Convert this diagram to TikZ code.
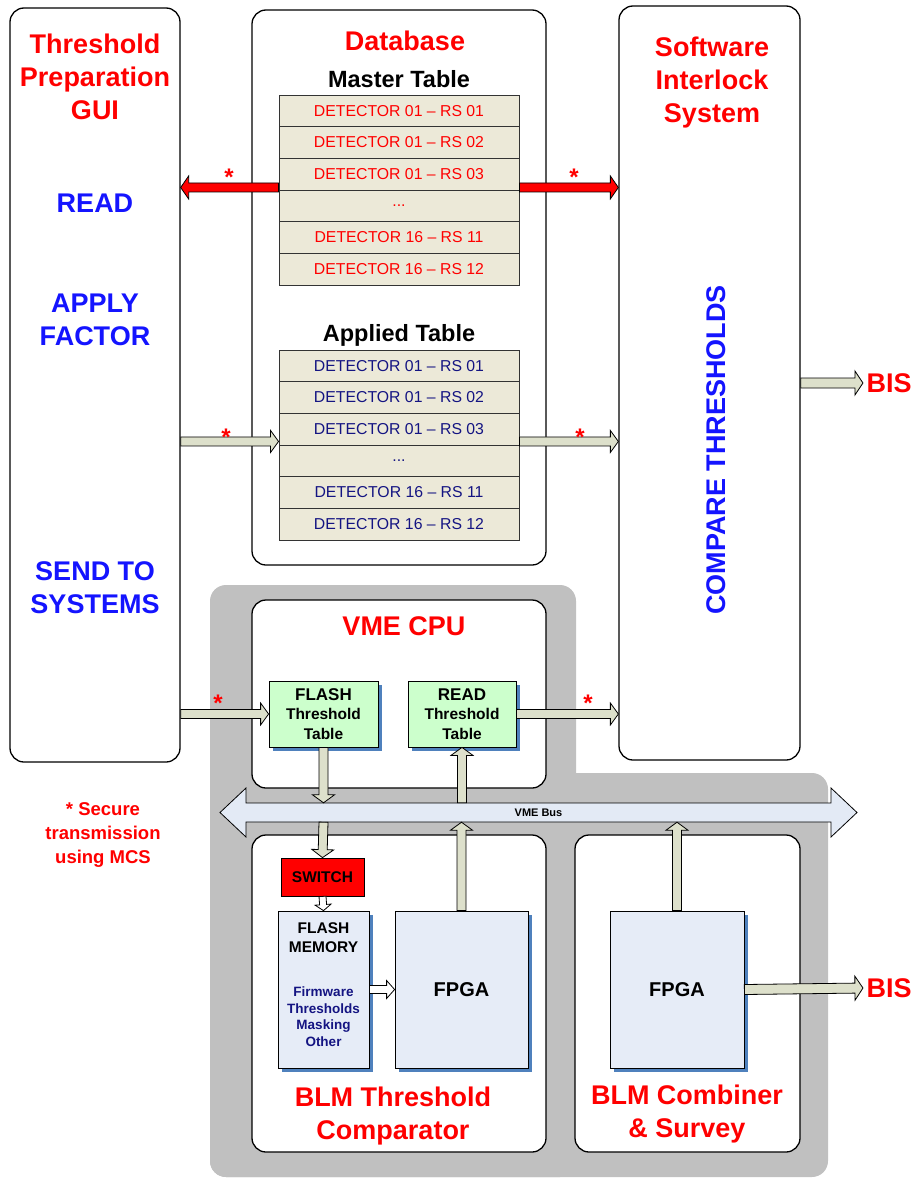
\documentclass[tikz,border=0pt]{standalone}
\usepackage{fontspec}
\setmainfont{Liberation Sans}
\usetikzlibrary{calc,shadows}

\definecolor{guired}{RGB}{255,0,0}
\definecolor{guiblue}{RGB}{20,20,255}
\definecolor{navytext}{RGB}{20,20,130}
\definecolor{tablefill}{RGB}{236,233,216}
\definecolor{arrowfill}{RGB}{221,224,203}
\definecolor{boxgreen}{RGB}{204,255,204}
\definecolor{boxblue}{RGB}{230,236,247}
\definecolor{shadowblue}{RGB}{79,129,189}
\definecolor{panelgray}{RGB}{192,192,192}
\definecolor{busfill}{RGB}{227,234,245}

% block arrow: [fill]{from}{to}{half shaft}{half head}{head length}
\newcommand{\blockarrow}[6][arrowfill]{
	\coordinate (ba-s) at (#2);
	\coordinate (ba-e) at (#3);
	\coordinate (ba-b) at ($(ba-e)!#6!(ba-s)$);
	\filldraw[fill=#1,draw=black,line width=0.8pt,line join=miter]
	($(ba-s)!#4!90:(ba-e)$) -- ($(ba-b)!#4!-90:(ba-s)$) -- ($(ba-b)!#5!-90:(ba-s)$) -- (ba-e)
	-- ($(ba-b)!#5!90:(ba-s)$) -- ($(ba-b)!#4!90:(ba-s)$) -- ($(ba-s)!#4!-90:(ba-e)$) -- cycle;
}

\tikzset{
	bigbox/.style={draw,line width=1.3pt,rounded corners=14pt,fill=white,inner sep=0pt},
	tabrow/.style={draw=black!80,line width=0.9pt,fill=tablefill,minimum width=240pt,minimum height=31.67pt,inner sep=0pt,font=\fontsize{15.8}{18}\selectfont},
	headline/.style={align=center,font=\fontsize{27}{33}\selectfont\bfseries},
	asterisk/.style={text=guired,font=\fontsize{24}{24}\selectfont\bfseries,inner sep=0pt},
	greenbox/.style={draw,line width=0.8pt,fill=boxgreen,align=center,inner sep=0pt,general shadow={fill=shadowblue,shadow xshift=4pt,shadow yshift=-4pt}},
	chipbox/.style={draw,line width=0.8pt,fill=boxblue,inner sep=0pt,general shadow={fill=shadowblue,shadow xshift=4pt,shadow yshift=-4pt}},
}

\begin{document}
\begin{tikzpicture}[x=1pt,y=-1pt]
\useasboundingbox (0,0) rectangle (919,1178);
%gray panel behind the hardware
\fill[panelgray,rounded corners=16pt] (210,585) rectangle (576,1177);
\fill[panelgray,rounded corners=16pt] (210,773) rectangle (828,1177);

%main boxes
\node[bigbox,minimum width=170pt,minimum height=754pt] (gui) at (95,385) {};
\node[bigbox,minimum width=294pt,minimum height=555pt] (db) at (399,287.5) {};
\node[bigbox,minimum width=181pt,minimum height=754pt] (sis) at (709.5,383) {};
\node[bigbox,minimum width=294pt,minimum height=188pt] (cpu) at (399,694) {};
\node[bigbox,minimum width=294pt,minimum height=317pt] (cmp) at (399,993.5) {};
\node[bigbox,minimum width=225pt,minimum height=317pt] (cmb) at (687.5,993.5) {};

%gui steps
\node[headline,text=guired] (gui-title) at (95,77) {Threshold\\Preparation\\GUI};
\node[headline,text=guiblue] (read-step) at (95,203) {READ};
\node[headline,text=guiblue] (apply-step) at (95,319.5) {APPLY\\FACTOR};
\node[headline,text=guiblue] (send-step) at (95,588) {SEND TO\\SYSTEMS};
\node[align=center,text=guired,font=\fontsize{18.5}{24}\selectfont\bfseries] (note) at (103,835) {* Secure\\transmission\\using MCS};

%interlock system
\node[headline,text=guired] (sis-title) at (712,83) {Software\\Interlock\\System};
\node[headline,text=guiblue,rotate=90] (compare) at (716,450) {COMPARE THRESHOLDS};

%database tables
\node[headline,text=guired] (db-title) at (405,41) {Database};
\node[headline,font=\fontsize{23.5}{28}\selectfont\bfseries] (master) at (399,79) {Master Table};
\node[headline,font=\fontsize{23.5}{28}\selectfont\bfseries] (applied) at (399,335) {Applied Table};
\foreach \i/\txt in {1/{DETECTOR 01 -- RS 01},2/{DETECTOR 01 -- RS 02},3/{DETECTOR 01 -- RS 03},4/{...},5/{DETECTOR 16 -- RS 11},6/{DETECTOR 16 -- RS 12}}{
	\node[tabrow,text=guired] (m\i) at (399,79.17+31.67*\i) {\txt};
	\node[tabrow,text=navytext] (a\i) at (399,334.17+31.67*\i) {\txt};
}

%vme cpu
\node[headline,text=guired] (cpu-title) at (404,626) {VME CPU};
\node[greenbox,minimum width=109pt,minimum height=66pt,font=\fontsize{15.5}{19.5}\selectfont\bfseries] (flash) at (323.5,714) {{\fontsize{17}{19.5}\selectfont FLASH}\\Threshold\\Table};
\node[greenbox,minimum width=108pt,minimum height=66pt,font=\fontsize{15.5}{19.5}\selectfont\bfseries] (read) at (462,714) {{\fontsize{17}{19.5}\selectfont READ}\\Threshold\\Table};

%bus
\coordinate (bus-l) at (220,812.5);
\coordinate (bus-r) at (857,812.5);
\filldraw[fill=busfill,line width=0.8pt] (bus-l) -- ++(26,-24.5) -- ++(0,15) -- ($(bus-r)+(-26,-9.5)$) -- ++(0,-15) -- (bus-r)
	-- ++(-26,24.5) -- ++(0,-15) -- ($(bus-l)+(26,9.5)$) -- ++(0,15) -- cycle;
\node[minimum width=585pt,minimum height=19pt,inner sep=0pt,font=\fontsize{11}{11}\selectfont\bfseries] (bus) at (538.5,812.5) {VME Bus};

%threshold comparator
\node[draw,fill=guired,line width=0.8pt,minimum width=83pt,minimum height=38pt,inner sep=0pt,font=\fontsize{15.5}{16}\selectfont\bfseries] (switch) at (322.5,877) {SWITCH};
\node[chipbox,minimum width=91pt,minimum height=157pt] (fmem) at (323.5,989.5) {};
\node[align=center,font=\fontsize{15.5}{19}\selectfont\bfseries] (fmem-name) at (323.5,937.5) {FLASH\\MEMORY};
\node[align=center,text=navytext,font=\fontsize{13.5}{16.5}\selectfont\bfseries] (fmem-data) at (323.5,1016.5) {Firmware\\Thresholds\\Masking\\Other};
\node[chipbox,minimum width=133pt,minimum height=157pt,font=\fontsize{20}{20}\selectfont\bfseries] (fpga1) at (461.5,989.5) {FPGA};
\node[headline,text=guired] (cmp-title) at (393,1116.5) {BLM Threshold\\Comparator};

%combiner
\node[chipbox,minimum width=134pt,minimum height=157pt,font=\fontsize{20}{20}\selectfont\bfseries] (fpga2) at (677,989.5) {FPGA};
\node[headline,text=guired] (cmb-title) at (687,1114.5) {BLM Combiner\\\& Survey};

%beam interlock outputs
\node[headline,text=guired] (bis1) at (889,383) {BIS};
\node[headline,text=guired] (bis2) at (889,988) {BIS};

%links
\coordinate (m-link) at ($(m3.south)+(0,-3)$);
\coordinate (a-link) at ($(a3.south)+(0,-4)$);
\blockarrow[guired]{m3.west |- m-link}{gui.east |- m-link}{4.5pt}{11.5pt}{8pt}
\blockarrow[guired]{m3.east |- m-link}{sis.west |- m-link}{4.5pt}{11.5pt}{8pt}
\blockarrow{gui.east |- a-link}{a3.west |- a-link}{4.5pt}{11pt}{8pt}
\blockarrow{a3.east |- a-link}{sis.west |- a-link}{4.5pt}{11pt}{8pt}
\blockarrow{gui.east |- flash.west}{flash.west}{4.5pt}{11pt}{8pt}
\blockarrow{read.east}{sis.west |- read.east}{4.5pt}{11pt}{8pt}
\blockarrow{flash.south}{flash.south |- bus.north}{4.5pt}{11pt}{8pt}
\blockarrow{flash.south |- bus.south}{switch.north}{4.5pt}{11pt}{8pt}
\blockarrow[white]{switch.south}{fmem.north}{3.5pt}{8pt}{6pt}
\blockarrow[white]{fmem.east}{fpga1.west}{4pt}{9pt}{8pt}
\blockarrow{fpga1.north}{fpga1.north |- bus.south}{4.5pt}{11pt}{8pt}
\blockarrow{read.south |- bus.north}{read.south}{4.5pt}{11pt}{8pt}
\blockarrow{fpga2.north}{fpga2.north |- bus.south}{4.5pt}{11pt}{8pt}
\blockarrow{fpga2.east}{bis2.west}{5pt}{12pt}{8pt}
\blockarrow{sis.east |- bis1.west}{bis1.west}{5pt}{12pt}{8pt}

%secure links
\node[asterisk] (s1) at (229,177) {*};
\node[asterisk] (s2) at (574,177) {*};
\node[asterisk] (s3) at (226,437) {*};
\node[asterisk] (s4) at (580,437) {*};
\node[asterisk] (s5) at (218,703) {*};
\node[asterisk] (s6) at (588,703) {*};
\end{tikzpicture}
\end{document}
